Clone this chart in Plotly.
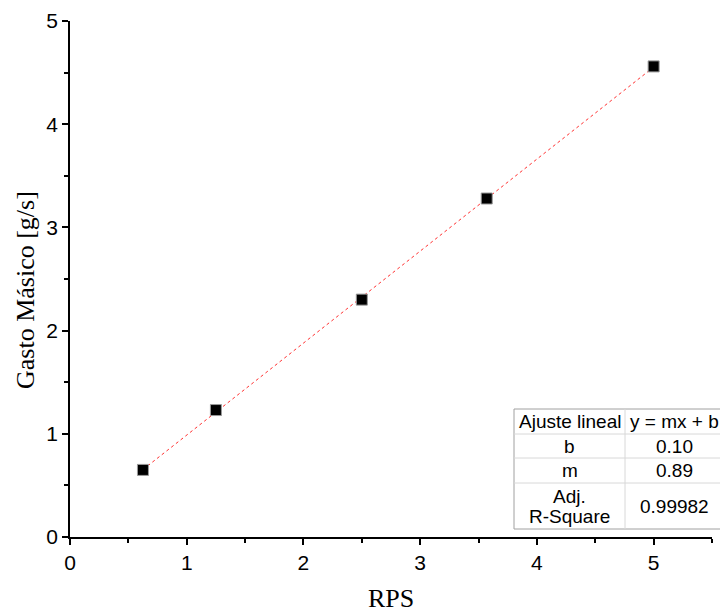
import numpy as np
import plotly.graph_objects as go

rps = [0.625, 1.25, 2.5, 3.57, 5.0]
gasto = [0.65, 1.23, 2.30, 3.28, 4.56]

table_header = ["Ajuste lineal", "y = mx + b"]
table_labels = ["b", "m", ["Adj.", "R-Square"]]
table_values = ["0.10", "0.89", "0.99982"]

m, b = np.polyfit(rps, gasto, 1)
xf = np.array([min(rps), max(rps)])
yf = m * xf + b

fig = go.Figure()
fig.add_trace(go.Scatter(x=xf, y=yf, mode="lines",
                         line=dict(color="#ff3030", width=1, dash="3px,3px"),
                         showlegend=False, hoverinfo="skip"))
fig.add_trace(go.Scatter(x=rps, y=gasto, mode="markers",
                         marker=dict(symbol="square", size=11, color="black",
                                     line=dict(color="#999999", width=1)),
                         showlegend=False))

axis_common = dict(showline=True, linecolor="black", linewidth=1.5,
                   ticks="outside", ticklen=6, tickwidth=1.5, tickcolor="black",
                   showgrid=False, zeroline=False,
                   tickfont=dict(family="Liberation Sans, Arial", size=21, color="black"),
                   minor=dict(ticks="outside", ticklen=4, tickwidth=1.5, tickcolor="black", dtick=0.5))

fig.update_xaxes(range=[0, 5.5], dtick=1, tick0=0, **axis_common)
fig.update_yaxes(range=[0, 5], dtick=1, tick0=0, **axis_common)

W, H = 720, 615
L, R, T, B = 70, 8, 21, 78
pw, ph = W - L - R, H - T - B

def px(x):
    return (x - L) / pw

def py(y):
    return 1 - (y - T) / ph

title_font = dict(family="Liberation Serif, Times New Roman", size=26, color="black")
fig.add_annotation(xref="paper", yref="paper", x=px(25), y=py(290), text="Gasto Másico [g/s]",
                   textangle=-90, showarrow=False, font=title_font, xanchor="center", yanchor="middle")
fig.add_annotation(xref="paper", yref="paper", x=px(391), y=py(598), text="RPS",
                   showarrow=False, font=title_font, xanchor="center", yanchor="middle")

# Table built from shapes & annotations
x0, xm, x1 = 514, 625, 722
rows = [409, 434, 458, 483, 529]
grid = "#a0a0a0"
fig.add_shape(type="rect", xref="paper", yref="paper", x0=px(x0), x1=px(x1), y0=py(rows[-1]), y1=py(rows[0]),
              line=dict(color=grid, width=1), fillcolor="white", layer="above")
for r in rows[1:-1]:
    fig.add_shape(type="line", xref="paper", yref="paper", x0=px(x0), x1=px(x1), y0=py(r), y1=py(r),
                  line=dict(color="#d8d8d8", width=1))
fig.add_shape(type="line", xref="paper", yref="paper", x0=px(xm), x1=px(xm), y0=py(rows[-1]), y1=py(rows[0]),
              line=dict(color="#d8d8d8", width=1))

fnt = dict(family="Liberation Sans, Arial", size=19, color="black")
cells = [(table_header[0], table_header[1], rows[0], rows[1])]
for i in range(3):
    cells.append((table_labels[i], table_values[i], rows[i + 1], rows[i + 2]))
for lab, val, ya, yb in cells:
    yc = (ya + yb) / 2
    if isinstance(lab, list):
        for k, part in enumerate(lab):
            fig.add_annotation(xref="paper", yref="paper", x=px((x0 + xm) / 2), y=py(yc - 10 + 20 * k),
                               text=part, showarrow=False, font=fnt, xanchor="center", yanchor="middle")
    else:
        fig.add_annotation(xref="paper", yref="paper", x=px((x0 + xm) / 2), y=py(yc), text=lab, showarrow=False,
                           font=fnt, xanchor="center", yanchor="middle")
    fig.add_annotation(xref="paper", yref="paper", x=px((xm + x1) / 2 + 1), y=py(yc), text=val, showarrow=False,
                       font=fnt, xanchor="center", yanchor="middle")

fig.update_layout(width=W, height=H, margin=dict(l=L, r=R, t=T, b=B),
                  plot_bgcolor="white", paper_bgcolor="white")
fig.write_html("out.html")
